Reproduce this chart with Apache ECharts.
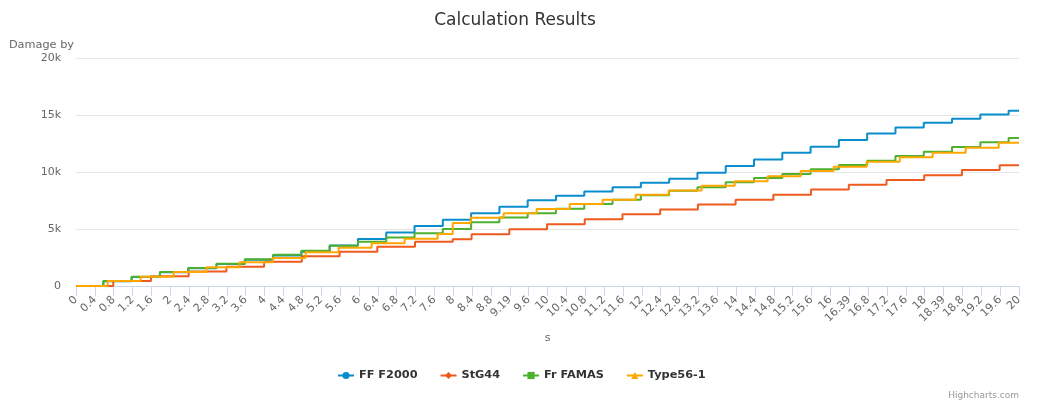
<!DOCTYPE html>
<html>
<head>
<meta charset="utf-8">
<script src="https://cdn.jsdelivr.net/npm/echarts@6/dist/echarts.min.js"></script>
<style>
html,body{margin:0;padding:0;background:#fff;}
#chart{width:1046px;height:409px;}
</style>
</head>
<body>
<div id="chart"></div>
<script>
// ---- data ----
const seriesNames = ['FF F2000', 'StG44', 'Fr FAMAS', 'Type56-1'];
const tickLabels = ['0','0.4','0.8','1.2','1.6','2','2.4','2.8','3.2','3.6','4','4.4','4.8','5.2','5.6','6','6.4','6.8','7.2','7.6','8','8.4','8.8','9.19','9.6','10','10.4','10.8','11.2','11.6','12','12.4','12.8','13.2','13.6','14','14.4','14.8','15.2','15.6','16','16.39','16.8','17.2','17.6','18','18.39','18.8','19.2','19.6','20'];
const startTime = 0, endTime = 20;

const ffTimes = [0.58,1.18,1.78,2.38,2.98,3.58,4.18,4.78,5.38,5.98,6.58,7.18,7.78,8.38,8.98,9.58,10.18,10.78,11.38,11.98,12.58,13.18,13.78,14.38,14.98,15.58,16.18,16.78,17.38,17.98,18.58,19.18,19.78];
const ffDamage = [420,800,1200,1560,1940,2310,2680,3000,3560,4120,4700,5260,5820,6375,6960,7520,7925,8300,8660,9060,9400,9940,10520,11100,11680,12220,12810,13380,13900,14310,14670,15050,15380];

const stgTimes = [0.79,1.59,2.39,3.19,3.99,4.79,5.59,6.39,7.19,7.99,8.39,9.19,9.99,10.79,11.59,12.39,13.19,13.99,14.79,15.59,16.39,17.19,17.99,18.79,19.59];
const stgDamage = [440,850,1270,1690,2120,2600,3010,3450,3890,4110,4540,4980,5410,5850,6290,6720,7140,7570,8010,8470,8890,9300,9720,10170,10590];

const famasTimes = [0.58,1.18,1.78,2.38,2.98,3.58,4.18,4.78,5.38,5.98,6.58,7.18,7.78,8.38,8.98,9.58,10.18,10.78,11.38,11.98,12.58,13.18,13.78,14.38,14.98,15.58,16.18,16.78,17.38,17.98,18.58,19.18,19.78];
const famasDamage = [440,820,1230,1580,1960,2340,2750,3100,3540,3880,4260,4620,5000,5590,6000,6375,6780,7190,7570,7950,8360,8660,9095,9475,9830,10235,10615,10990,11400,11780,12190,12605,12980];

const typeTimes = [0.67,1.37,2.07,2.77,3.47,4.17,4.87,5.57,6.27,6.97,7.67,7.99,8.37,9.07,9.77,10.47,11.17,11.87,12.57,13.27,13.97,14.67,15.37,16.07,16.77,17.47,18.17,18.87,19.57];
const typeDamage = [440,820,1230,1640,2075,2455,2955,3360,3745,4150,4560,5530,5990,6375,6755,7190,7570,8000,8380,8800,9180,9620,10090,10470,10905,11290,11695,12130,12570];

const colors = ['#0a8dcd', '#ef5a1e', '#4db02e', '#ffa600'];
const symbols = ['circle', 'diamond', 'rect', 'triangle'];

function buildSteps(times, dmg) {
  const pts = [[startTime, 0]];
  times.forEach((t, i) => pts.push([t, dmg[i]]));
  pts.push([endTime, dmg[dmg.length - 1]]);
  return pts;
}
const allData = [
  buildSteps(ffTimes, ffDamage),
  buildSteps(stgTimes, stgDamage),
  buildSteps(famasTimes, famasDamage),
  buildSteps(typeTimes, typeDamage)
];

const FONT = 'DejaVu Sans';
const chart = echarts.init(document.getElementById('chart'), null, {renderer: 'canvas'});
chart.setOption({
  animation: false,
  color: colors,
  textStyle: {fontFamily: FONT},
  title: {
    text: 'Calculation Results',
    left: 515, top: 12, textAlign: 'center', padding: 0,
    textStyle: {fontFamily: FONT, fontSize: 17, fontWeight: 'normal', color: '#333333'}
  },
  legend: {
    data: seriesNames,
    left: 332, top: 365,
    itemWidth: 16, itemHeight: 9, itemGap: 22,
    textStyle: {fontFamily: FONT, fontSize: 11.3, fontWeight: 'bold', color: '#333333'}
  },
  grid: {left: 76, right: 27, top: 58, bottom: 123, containLabel: false},
  xAxis: {
    type: 'value', min: 0, max: 20, interval: 0.4,
    name: 's', nameLocation: 'middle', nameGap: 47,
    nameTextStyle: {fontFamily: FONT, fontSize: 11, color: '#666666'},
    axisLine: {show: true, lineStyle: {color: '#ccd6eb', width: 1}},
    axisTick: {show: true, length: 10, lineStyle: {color: '#ccd6eb', width: 1}},
    splitLine: {show: false},
    axisLabel: {
      rotate: 45, margin: 12, color: '#666666', fontFamily: FONT, fontSize: 11,
      showMinLabel: true, showMaxLabel: true,
      formatter: v => tickLabels[Math.round(v / 0.4)]
    }
  },
  yAxis: {
    type: 'value', min: 0, max: 20000, interval: 5000,
    name: 'Damage by', nameLocation: 'end', nameGap: 7,
    nameTextStyle: {fontFamily: FONT, fontSize: 11.3, color: '#666666', align: 'right', padding: [0, 2, 0, 0]},
    axisLine: {show: false}, axisTick: {show: false},
    splitLine: {lineStyle: {color: '#e6e6e6', width: 1}},
    axisLabel: {
      margin: 15, color: '#666666', fontFamily: FONT, fontSize: 11,
      formatter: v => v === 0 ? '0' : (v / 1000) + 'k'
    }
  },
  graphic: [{
    type: 'text', right: 27, top: 391,
    style: {text: 'Highcharts.com', fill: '#999999', fontFamily: FONT, fontSize: 9}
  }],
  series: seriesNames.map((name, i) => ({
    name: name, type: 'line', step: 'end',
    data: allData[i],
    symbol: symbols[i], symbolSize: 8, showSymbol: false,
    lineStyle: {width: 2, color: colors[i]},
    itemStyle: {color: colors[i]},
    emphasis: {disabled: true}
  }))
});
</script>
</body>
</html>
